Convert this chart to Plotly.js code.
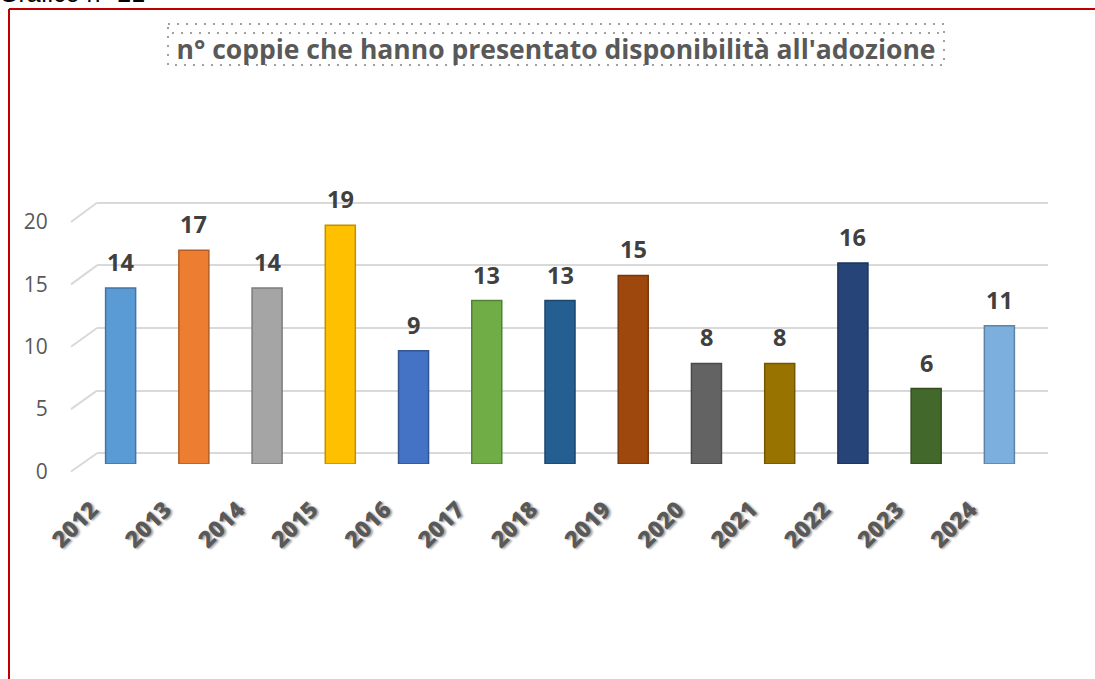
<!DOCTYPE html>
<html><head><meta charset="utf-8">
<script src="https://cdn.plot.ly/plotly-3.0.1.min.js"></script>
<style>html,body{margin:0;padding:0;background:#fff;overflow:hidden}#chart{width:1095px;height:679px}</style>
</head><body><div id="chart"></div>
<script>
const years = ['2012','2013','2014','2015','2016','2017','2018','2019','2020','2021','2022','2023','2024'];
const counts = [14,17,14,19,9,13,13,15,8,8,16,6,11];
const barColors = ['#5b9bd5','#ed7d31','#a5a5a5','#ffc000','#4472c4','#70ad47','#255e91','#9e480e','#636363','#997300','#264478','#43682b','#7cafdd'];
const yTicks = [0,5,10,15,20];
const chartTitle = "n° coppie che hanno presentato disponibilità all'adozione";
const caption = "Grafico n° 21";

const W = 1095, H = 679;
const px = v => v / W;
const py = v => 1 - v / H;

function darken(hex, f) {
  const n = parseInt(hex.slice(1), 16);
  const r = Math.round(((n >> 16) & 255) * f), g = Math.round(((n >> 8) & 255) * f), b = Math.round((n & 255) * f);
  return 'rgb(' + r + ',' + g + ',' + b + ')';
}

const idx = years.map((c, i) => i);

const traces = [
  { type: 'scatter', mode: 'markers', x: [0.5], y: [0], xaxis: 'x', yaxis: 'y', marker: { opacity: 0 }, hoverinfo: 'none' },
  {
    type: 'bar', x: years, y: counts, xaxis: 'x2', yaxis: 'y2',
    width: 0.41,
    marker: { color: barColors, line: { color: barColors.map(c => darken(c, 0.75)), width: 1.5 } },
    hoverinfo: 'none'
  },
  { type: 'scatter', mode: 'markers', x: [0], y: [0], xaxis: 'x3', yaxis: 'y3', marker: { opacity: 0 }, hoverinfo: 'none' }
];

const shapes = [];
yTicks.forEach(v => {
  shapes.push({ type: 'line', xref: 'paper', yref: 'paper', layer: 'below',
    x0: px(71), y0: py(471.5 - 12.475 * v), x1: px(97), y1: py(453.3 - 12.53 * v),
    line: { color: '#d9d9d9', width: 2 } });
});
shapes.push({ type: 'line', xref: 'paper', yref: 'paper', x0: px(9), y0: py(9), x1: 1.01, y1: py(9), line: { color: '#c00000', width: 2 } });
shapes.push({ type: 'line', xref: 'paper', yref: 'paper', x0: px(9), y0: py(9), x1: px(9), y1: -0.01, line: { color: '#c00000', width: 2 } });
shapes.push({ type: 'rect', xref: 'paper', yref: 'paper', x0: px(168), x1: px(944), y0: py(24), y1: py(65), line: { color: '#a0a0a0', width: 2, dash: '2px,7px' } });
shapes.push({ type: 'line', xref: 'paper', yref: 'paper', x0: px(172), x1: px(940), y0: py(33), y1: py(33), line: { color: '#a0a0a0', width: 2, dash: '2px,7px' } });

const annotations = counts.map((v, i) => ({
  x: idx[i], y: v, xref: 'x2', yref: 'y2', text: '<b>' + v + '</b>', showarrow: false,
  yanchor: 'bottom', yshift: 8,
  font: { family: 'Open Sans', size: 23.5, color: '#404040' }
}));
annotations.push({
  x: 0, y: py(9), xref: 'paper', yref: 'paper', xanchor: 'left', yanchor: 'bottom', xshift: -3,
  text: caption, showarrow: false, font: { family: 'Liberation Sans', size: 25, color: '#000' }
});

const pad = 0.3;
const layout = {
  width: W, height: H,
  margin: { l: 0, r: 0, t: 0, b: 0 },
  paper_bgcolor: '#fff', plot_bgcolor: 'rgba(0,0,0,0)',
  showlegend: false,
  title: {
    text: chartTitle, xref: 'paper', yref: 'paper', x: px(556), xanchor: 'center', y: py(50), yanchor: 'middle',
    font: { family: 'Open Sans', size: 26.5, weight: 700, color: '#595959' }
  },
  xaxis: { domain: [px(97), px(1048)], range: [0, 1], anchor: 'y',
    showticklabels: false, showgrid: false, zeroline: false, showline: false, ticks: '' },
  yaxis: { domain: [py(453.3 + pad * 12.53), py(202.7 - pad * 12.53)], range: [-pad, 20 + pad], anchor: 'x', tickvals: yTicks,
    showticklabels: false, showgrid: true, gridcolor: '#d9d9d9', gridwidth: 2, zeroline: false, showline: false, ticks: '' },
  xaxis2: { domain: [px(84), px(1036)], type: 'category', range: [-0.5, 12.5], anchor: 'y2',
    showticklabels: false, showgrid: false, zeroline: false, showline: false, ticks: '' },
  yaxis2: { domain: [py(464), py(212.6)], range: [0, 20], anchor: 'x2',
    showticklabels: false, showgrid: false, zeroline: false, showline: false, ticks: '' },
  xaxis3: { domain: [px(55), px(1007)], range: [-0.5, 12.5], anchor: 'free', position: py(484),
    tickvals: idx, ticktext: years, tickangle: -45,
    ticks: 'outside', ticklen: 2, tickcolor: 'rgba(0,0,0,0)',
    tickfont: { family: 'Open Sans', size: 23, weight: 800, color: '#595959', shadow: '1px 2px 2px rgba(0,0,0,0.35)' },
    showgrid: false, zeroline: false, showline: false },
  yaxis3: { domain: [py(471.5), py(222)], range: [0, 20], anchor: 'free', position: px(71), side: 'left',
    tickvals: yTicks, ticks: 'outside', ticklen: 19, tickcolor: 'rgba(0,0,0,0)',
    tickfont: { family: 'Open Sans', size: 21, color: '#595959' },
    showgrid: false, zeroline: false, showline: false },
  shapes: shapes,
  annotations: annotations
};

Plotly.newPlot('chart', traces, layout, { staticPlot: true, displayModeBar: false });
</script>
</body></html>
